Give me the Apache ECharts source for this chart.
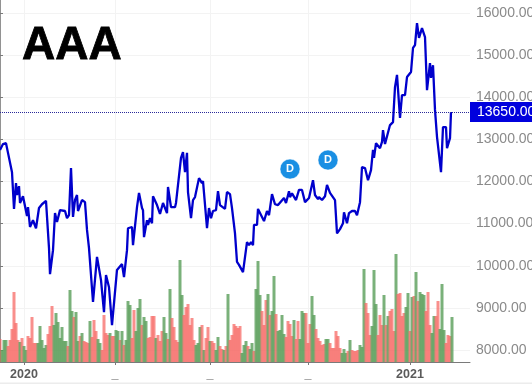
<!DOCTYPE html>
<html>
<head>
<meta charset="utf-8">
<script src="https://cdn.jsdelivr.net/npm/echarts@6/dist/echarts.min.js"></script>
<style>html,body{margin:0;padding:0;background:#fff}#c{width:532px;height:384px}</style>
</head>
<body>
<div id="c"></div>
<script>
const lineDays = [
0,1.5,3,4,6,7,8,8.5,9.5,10,
11.5,12.5,13.5,14,15,16.5,18,19,19.5,21,
23,24.5,25,26.5,27.5,28.5,30,32.5,33.5,34.5,
35.5,36.5,37.5,38.5,39,41,42.5,43.5,44.5,46.5,
48.5,50.5,52,53,54.5,56,58.5,59.5,61,62,
63.5,64,66,66.5,68.5,69.5,71,71.5,72,73.5,
74,75,76,76.5,78.5,80,81.5,83.5,84,85.5,
87.5,88,89,90.5,91.5,92.5,93.5,94,95.5,96.5,
97.5,99.5,101,101.5,103.5,104.5,105.5,106.5,108,109,
110,112.5,113.5,115,116,117.5,118.5,119.5,121.5,123.5,
124.5,125.5,126.5,127,128.5,129,132,133.5,134.5,136,
137.5,139,142,143,144.5,145,146,148,149.5,151,
152.5,154.5,156.5,157.5,159,159.5,161,162.5,163.5,165,
166,167.5,168.5,170,171.5,172,173.5,174.5,176,177.5,
178.5,180,181,182.5,184,185.5,186.5,187,188,189,
190,191,191.5,192.5,195,196.5,197.5,198.5,200,201,
202.5,203.5,205.5,206.5,207.5,208.5,209.5,211,212.5,213.5,
215,215.5,216.5,217.5,218.5,220.5,221.5,223,223.5,225,225.5];
const lineValues = [
12750,12890,12910,12680,12220,11350,11960,11680,11890,11490,
11650,11630,11180,11390,10920,11080,10890,10890,11370,11460,
11540,10420,9800,10370,11250,11040,11320,11300,11130,11200,
12320,11160,11560,11680,11300,11560,11510,10850,10420,9140,
10210,9660,8900,9780,9490,8590,9900,9940,10040,9730,
10370,10890,10920,10490,11390,11730,11370,11320,10680,11080,
10970,11130,11010,11650,11440,11230,11490,11250,11870,11390,
11390,11490,11510,12560,12700,12220,12680,11750,11130,11560,
11630,12080,11960,12010,10890,11370,11130,11300,11320,11770,
11440,11350,11750,11700,11370,10770,10090,10020,9850,10560,
10490,10560,10490,10970,10970,11350,11060,11300,11200,11700,
11460,11440,11610,11490,11770,11630,11720,11560,11800,11800,
11510,11610,12030,11680,11580,11630,11560,11650,11920,11730,
11730,11560,10770,10870,11010,11270,11010,11250,11300,11300,
11200,11510,12340,12320,12030,12270,12750,12560,12910,12890,
12790,12940,13220,12890,13340,13410,14240,14530,13510,14050,
14050,14480,14600,15170,15240,15760,15410,15640,15430,14170,
14810,14460,14760,13700,13060,12220,13290,13290,12790,13030,13650];
const volumeValues = [23,12,22,22,16,22,33,70,39,22,20,24,16,12,26,24,45,19,19,19,36,22,14,17,28,36,56,37,49,40,24,35,21,21,16,72,51,45,50,21,26,29,21,20,19,41,25,42,31,23,19,12,47,29,27,29,26,26,32,31,22,31,17,22,61,57,24,52,31,54,63,37,45,41,24,25,46,46,24,27,21,31,45,29,23,73,44,35,22,20,102,67,47,55,58,37,44,22,17,19,35,37,12,24,35,21,21,19,12,25,16,13,12,16,68,22,27,38,36,34,36,9,17,21,16,13,19,11,73,101,67,51,37,62,68,47,51,86,48,31,32,47,28,25,41,38,26,42,23,41,23,51,49,49,19,38,66,47,33,24,21,17,18,23,23,19,14,14,31,26,14,9,13,9,11,22,12,11,11,12,17,15,93,59,49,27,36,92,58,27,47,37,67,37,46,51,53,31,108,68,69,46,49,55,69,31,65,66,90,61,70,68,67,51,70,37,29,46,46,61,33,78,32,19,27,26,45];
const volumeSides = ['r','g','g','g','r','r','r','r','r','r','g','r','g','g','r','r','r','r','r','g','g','g','g','g','r','r','r','g','g','g','g','g','g','g','r','g','g','r','g','g','r','g','r','r','r','g','r','r','r','g','g','r','r','r','r','g','r','r','g','g','r','g','r','g','g','g','r','r','g','g','g','r','g','g','r','r','r','r','g','r','r','r','g','g','r','g','r','r','r','r','g','g','r','r','r','r','r','r','g','g','g','r','g','r','r','g','r','r','g','g','r','r','g','r','g','r','r','r','r','r','r','g','g','g','r','g','g','r','g','g','g','r','r','r','g','r','g','g','r','g','g','g','g','r','r','r','r','g','r','r','g','g','g','r','r','r','g','g','r','r','r','r','r','g','g','r','r','r','r','r','r','g','g','g','r','g','r','r','r','r','g','g','g','r','r','r','g','g','g','r','r','r','g','r','g','r','r','r','g','r','r','r','r','g','g','r','g','r','g','r','g','g','g','r','r','r','g','g','r','r','g','g','g','r','r','r','g'];
const priceTicks = [8000,9000,10000,11000,12000,13000,14000,15000,16000];
const timeTicks = [12,57.5,105,154,205];
const timeLabels = ['2020','_','_','_','2021'];
const eventDays = [145,164];
const eventLevels = [12295,12510];
const lastPrice = 13650;
const chartTitle = 'AAA';

const font = '"Liberation Sans", Arial, sans-serif';
const chart = echarts.init(document.getElementById('c'), null, {renderer:'canvas'});
chart.setOption({
  animation:false,
  backgroundColor:'#ffffff',
  title:{text:chartTitle,left:17,top:18,textStyle:{fontFamily:font,fontSize:46,fontWeight:'bold',color:'#000',textBorderColor:'#000',textBorderWidth:0.8}},
  graphic:[{type:'rect',shape:{x:0,y:382.5,width:532,height:1.5},style:{fill:'#ececec'},silent:true}],
  grid:{left:0,right:62,top:0,bottom:22,containLabel:false,outerBoundsMode:'none'},
  xAxis:{type:'value',min:0,max:235,
    axisLine:{show:true,onZero:false,lineStyle:{color:'#7a7a7a',width:1}},
    axisTick:{show:true,length:3,customValues:timeTicks,lineStyle:{color:'#7a7a7a'}},
    axisLabel:{customValues:timeTicks,margin:6,fontFamily:font,fontSize:12.5,fontWeight:'bold',color:'#5a5a5a',
      formatter:(v)=>timeLabels[timeTicks.indexOf(v)]},
    splitLine:{show:true,lineStyle:{color:'#f3f3f3',width:1}}},
  yAxis:[
    {type:'value',position:'right',min:7715,max:16309,
      axisLine:{show:true,lineStyle:{color:'#6e6e6e',width:1.5}},
      axisTick:{show:true,length:3,customValues:priceTicks,lineStyle:{color:'#7a7a7a'}},
      axisLabel:{customValues:priceTicks,margin:6,fontFamily:font,fontSize:14,color:'#8a8a8a',
        formatter:(v)=>v.toFixed(2)},
      splitLine:{show:true,lineStyle:{color:'#f3f3f3',width:1}}},
    {type:'value',min:0,max:362,show:false,splitLine:{show:false}}
  ],
  series:[
    {type:'bar',yAxisIndex:1,barWidth:3,silent:true,z:1,
      data:volumeValues.map((v,i)=>({value:[i,v],itemStyle:{color:volumeSides[i]==='g'?'rgba(84,155,84,0.78)':'rgba(246,100,96,0.72)'}}))},
    {type:'line',yAxisIndex:0,symbol:'none',z:3,lineStyle:{color:'#0000cc',width:2.3},
      data:lineDays.map((d,i)=>[d,lineValues[i]]),
      markLine:{silent:true,symbol:'none',animation:false,
        lineStyle:{color:'#2a2a9a',type:'dotted',width:1},
        label:{show:true,position:'end',distance:0,formatter:()=>lastPrice.toFixed(2),color:'#fff',backgroundColor:'#0000dd',
          fontFamily:font,fontSize:14,padding:[3,3,3,7],width:54},
        data:[{yAxis:lastPrice}]}},
    {type:'scatter',yAxisIndex:0,symbol:'circle',symbolSize:20,z:4,
      itemStyle:{color:'#1a8fe3',opacity:1,borderColor:'#fff',borderWidth:0.5},
      label:{show:true,position:'inside',formatter:'D',color:'#fff',fontWeight:'bold',fontSize:11,fontFamily:font},
      data:eventDays.map((d,i)=>[d,eventLevels[i]])}
  ]
});
</script>
</body>
</html>
